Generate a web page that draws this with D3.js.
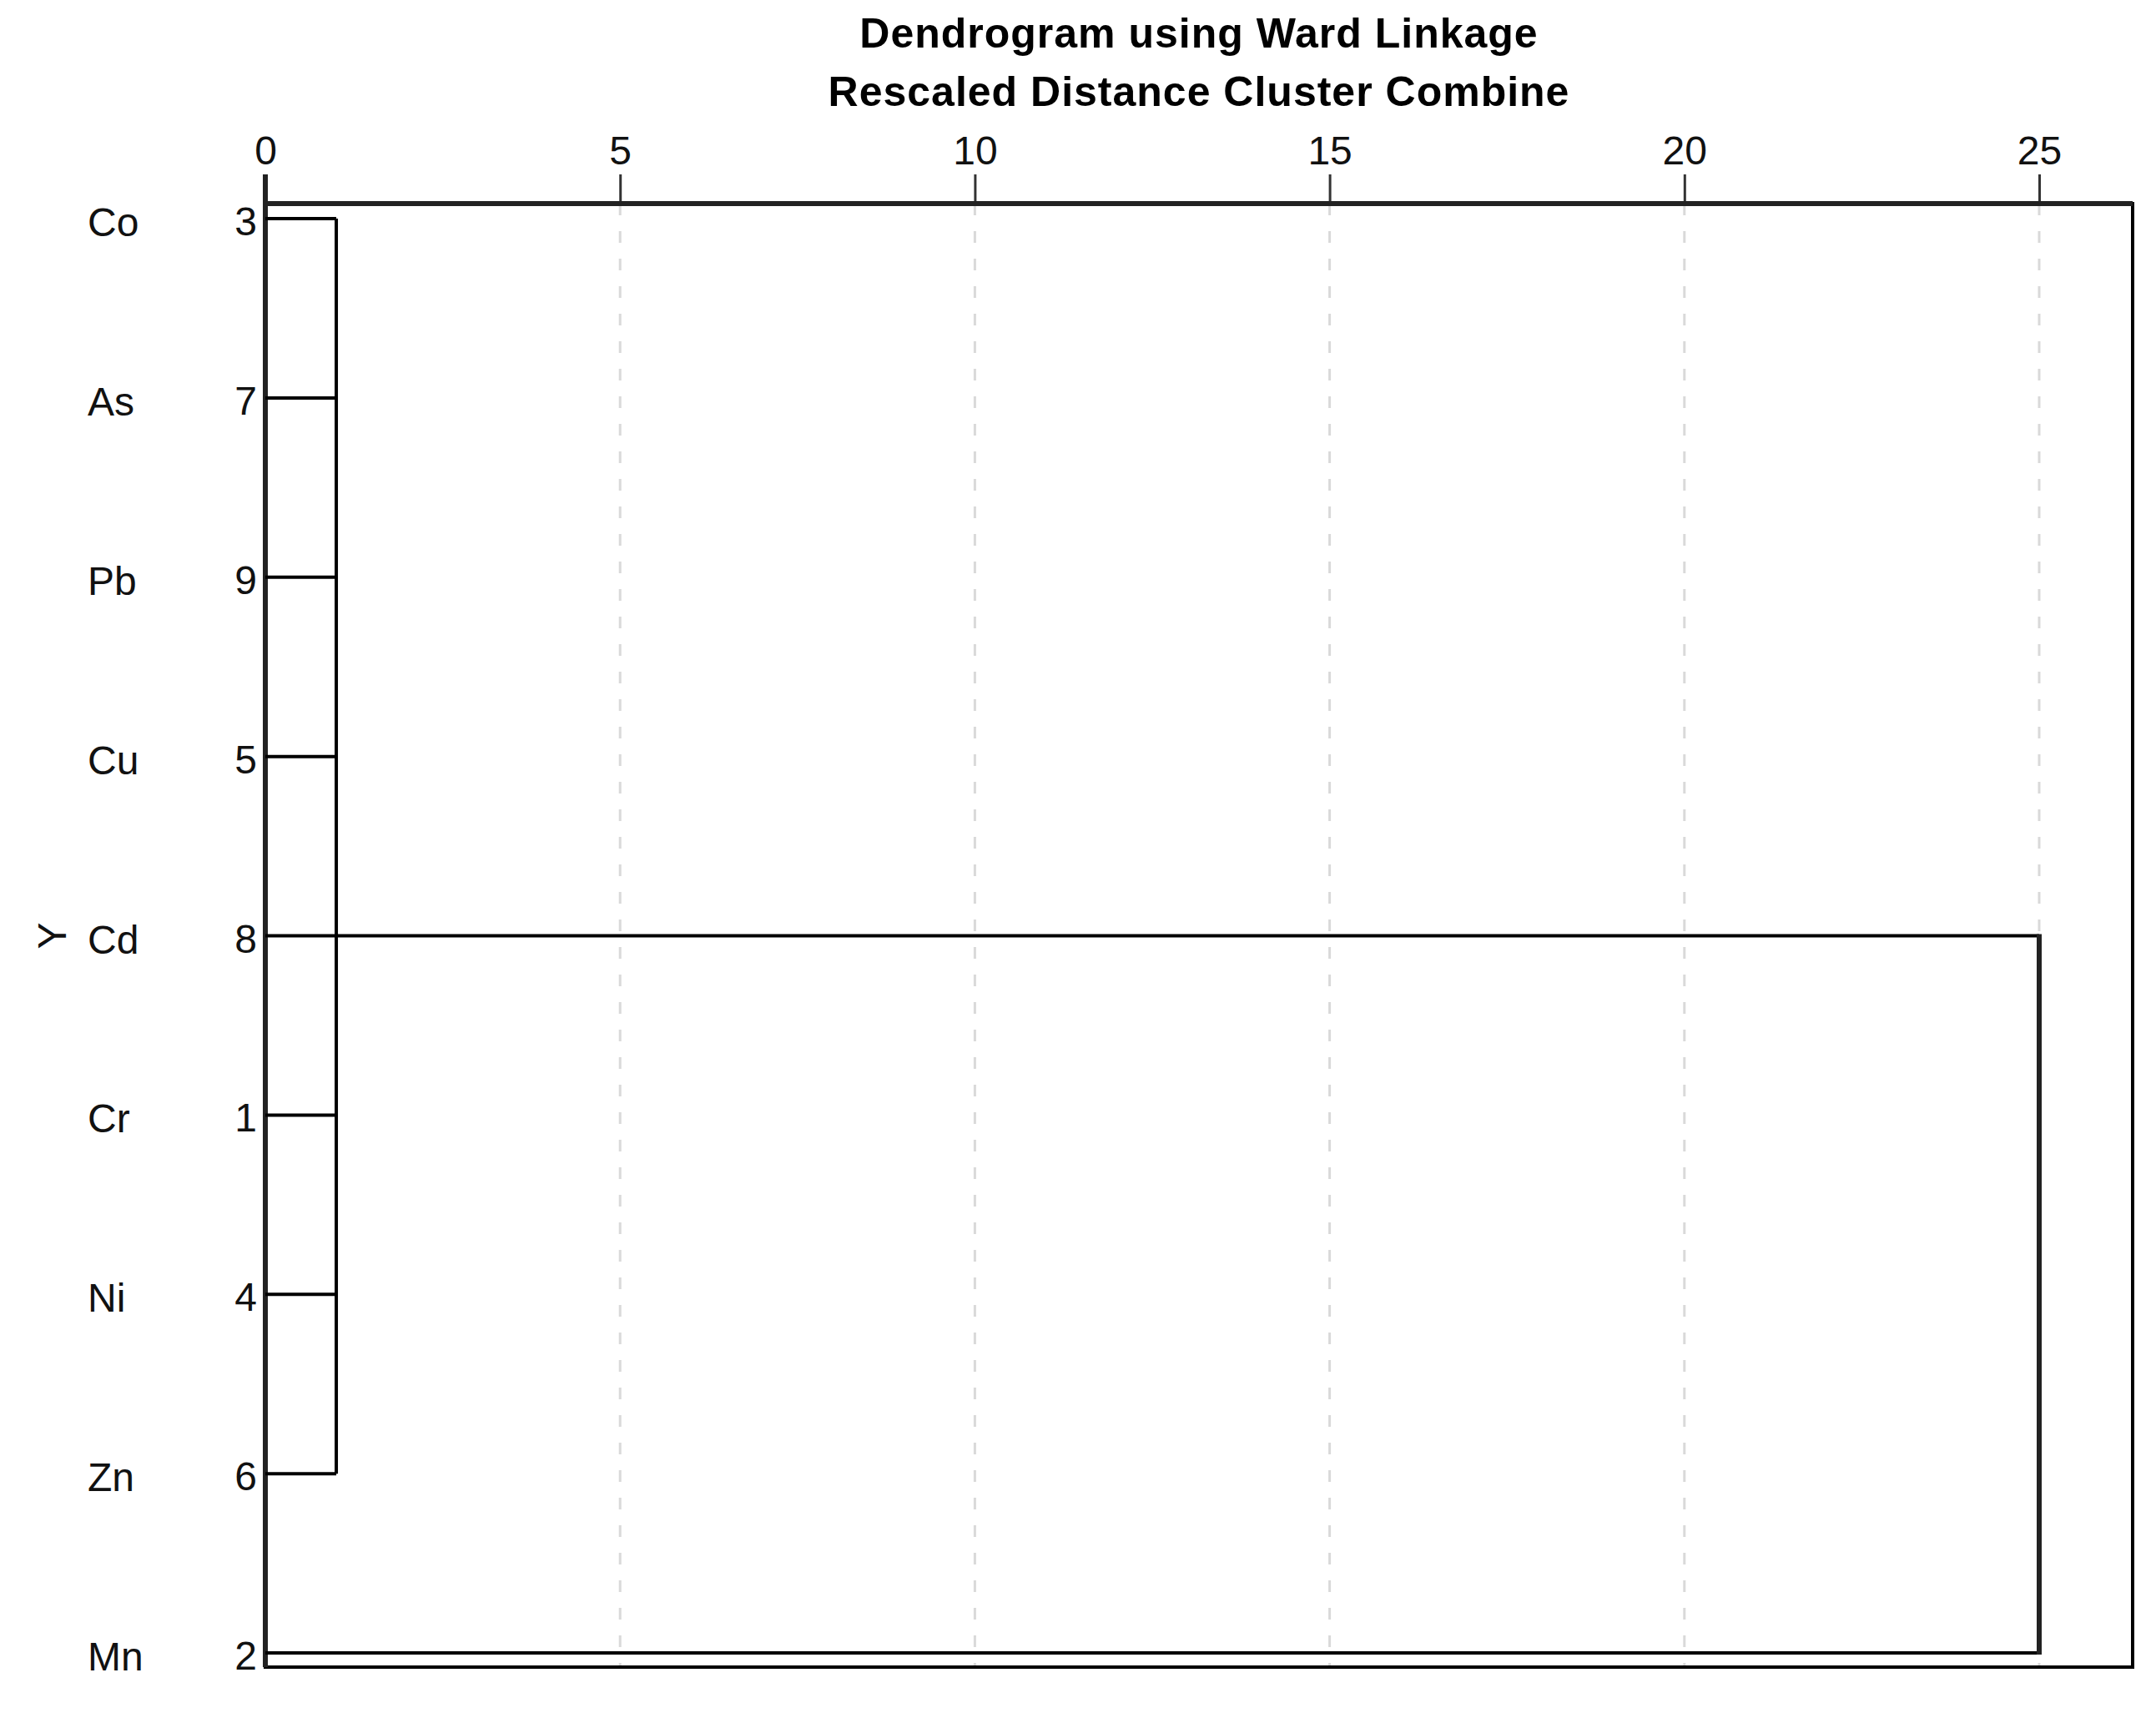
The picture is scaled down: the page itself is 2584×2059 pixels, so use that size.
<!DOCTYPE html>
<head>
  <meta charset="utf-8">
  <script src="https://d3js.org/d3.v7.min.js"></script>
  <style>
    body {
      margin:0;position:fixed;top:0;right:0;bottom:0;left:0;
      font-family: "Liberation Sans", Arial, sans-serif;
      background-color: white;
    }
    .title {
      font-weight: bold;
      font-size: 50px;
      letter-spacing: 1px;
    }
    .label, .tick text {
      font-size: 48px;
      fill: #111;
    }
  </style>
</head>

<body>
  <script>
    // data
    var leaves = ["Co", "As", "Pb", "Cu", "Cd", "Cr", "Ni", "Zn", "Mn"];
    var caseNumbers = [3, 7, 9, 5, 8, 1, 4, 6, 2];
    var tickValues = [0, 5, 10, 15, 20, 25];
    var titleLines = ["Dendrogram using Ward Linkage", "Rescaled Distance Cluster Combine"];
    // first merge: Co..Zn together at ~1, drawn out through Cd; then with Mn at 25
    var clusterA = ["Co", "As", "Pb", "Cu", "Cd", "Cr", "Ni", "Zn"];
    var clusterAStem = "Cd";
    var mergeHeights = [1, 25];

    var svg = d3.select("body").append("svg")
      .attr("width", 2584)
      .attr("height", 2059)
      .style("background-color", "white")

    var frame = {left: 318, right: 2556, top: 244, bottom: 1998};

    var x = d3.scaleLinear()
      .domain([0, 25])
      .range([318, 2444])

    var y = d3.scalePoint()
      .domain(leaves)
      .range([262, 1981])

    // titles
    svg.selectAll(".title").data(titleLines).enter()
      .append("text")
      .attr("class", "title")
      .attr("x", (frame.left + frame.right) / 2)
      .attr("y", function(d, i) {return 57 + i * 70})
      .attr("text-anchor", "middle")
      .text(function(d) {return d})

    // dashed grid lines
    svg.selectAll(".grid").data(tickValues.filter(function(d) {return d > 0})).enter()
      .append("line")
      .attr("class", "grid")
      .attr("x1", function(d) {return x(d)})
      .attr("x2", function(d) {return x(d)})
      .attr("y1", frame.top)
      .attr("y2", frame.bottom)
      .style("stroke", "#d9d9d9")
      .style("stroke-width", 3)
      .style("stroke-dasharray", "14,19")

    // top axis
    var xAxis = d3.axisTop(x)
      .tickValues(tickValues)
      .tickSize(35)
      .tickPadding(12)

    var gx = svg.append("g")
      .attr("transform", "translate(0," + frame.top + ")")
      .call(xAxis)
    gx.select(".domain").remove()
    gx.selectAll(".tick line").style("stroke", "#333").style("stroke-width", 3)
    gx.selectAll(".tick text").attr("font-family", null).attr("font-size", null)

    // frame
    svg.append("rect")
      .attr("x", frame.left)
      .attr("y", frame.top)
      .attr("width", frame.right - frame.left)
      .attr("height", frame.bottom - frame.top)
      .style("fill", "none")
      .style("stroke", "#000")
      .style("stroke-width", 4)
    svg.append("line")
      .attr("x1", frame.left).attr("x2", frame.right)
      .attr("y1", frame.top).attr("y2", frame.top)
      .style("stroke", "#222").style("stroke-width", 6)
    svg.append("line")
      .attr("x1", frame.left).attr("x2", frame.left)
      .attr("y1", frame.top - 35).attr("y2", frame.bottom)
      .style("stroke", "#222").style("stroke-width", 6)

    // leaf labels and case numbers
    svg.selectAll(".leafName").data(leaves).enter()
      .append("text")
      .attr("class", "label leafName")
      .attr("x", 105)
      .attr("y", function(d) {return y(d) + 21})
      .text(function(d) {return d})

    svg.selectAll(".caseNum").data(leaves).enter()
      .append("text")
      .attr("class", "label caseNum")
      .attr("x", 308)
      .attr("y", function(d) {return y(d) + 20})
      .attr("text-anchor", "end")
      .text(function(d, i) {return caseNumbers[i]})

    svg.append("text")
      .attr("class", "label")
      .attr("transform", "translate(79," + y("Cd") + ") rotate(-90)")
      .attr("text-anchor", "middle")
      .text("Y")

    // dendrogram
    var links = svg.append("g")
      .style("stroke", "#000")
      .style("fill", "none")

    links.selectAll(".leafLine").data(clusterA).enter()
      .append("line")
      .attr("x1", x(0))
      .attr("x2", x(mergeHeights[0]))
      .attr("y1", function(d) {return y(d)})
      .attr("y2", function(d) {return y(d)})
      .style("stroke-width", 4)

    links.append("line")
      .attr("x1", x(mergeHeights[0])).attr("x2", x(mergeHeights[0]))
      .attr("y1", y(clusterA[0])).attr("y2", y(clusterA[clusterA.length - 1]))
      .style("stroke-width", 4)

    // stem of the first cluster and the Mn leaf, joined at the last height
    var last = leaves[leaves.length - 1];
    links.append("line")
      .attr("x1", x(mergeHeights[0])).attr("x2", x(mergeHeights[1]))
      .attr("y1", y(clusterAStem)).attr("y2", y(clusterAStem))
      .style("stroke-width", 4)
    links.append("line")
      .attr("x1", x(0)).attr("x2", x(mergeHeights[1]))
      .attr("y1", y(last)).attr("y2", y(last))
      .style("stroke-width", 4)
    links.append("line")
      .attr("x1", x(mergeHeights[1])).attr("x2", x(mergeHeights[1]))
      .attr("y1", y(clusterAStem) - 2).attr("y2", y(last) + 2)
      .style("stroke", "#222")
      .style("stroke-width", 6)
  </script>
</body>
